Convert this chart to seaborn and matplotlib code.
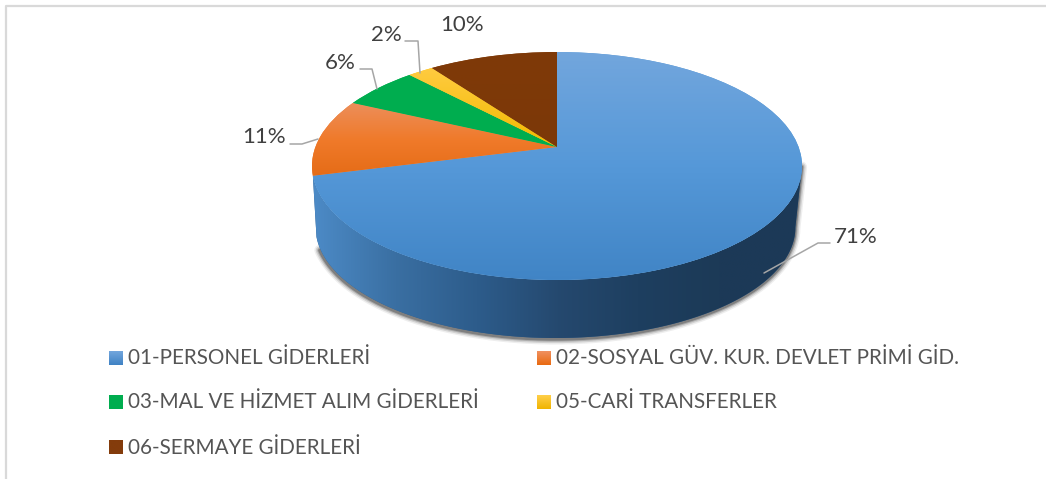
import numpy as np
import matplotlib
matplotlib.use("Agg")
import matplotlib.pyplot as plt
from matplotlib.patches import Polygon
from matplotlib.transforms import Transform
import seaborn as sns

# Datos
categorias = ['01-PERSONEL GİDERLERİ', '02-SOSYAL GÜV. KUR. DEVLET PRİMİ GİD.',
              '03-MAL VE HİZMET ALIM GİDERLERİ', '05-CARİ TRANSFERLER', '06-SERMAYE GİDERLERİ']
valores = [71, 11, 6, 2, 10]

# Degradados de cada sector (arriba -> abajo)
colores = ['#5b9bd5', '#ed7d31', '#00ad4f', '#ffc000', '#7f3a08']
degradados = [['#72a6dd', '#5598d8', '#4084c5'], ['#ec8e5a', '#f07a2a', '#e56c17'],
              ['#00ae50', '#00ad4f'], ['#ffcb40', '#f2ba00'], ['#7f3a08', '#7c3808']]
degradado_lado = ['#4c8ac6', '#3a6fa2', '#2d5c8b', '#25496f', '#1e3f60', '#1c3a57', '#1c3957']
leyenda_deg = [['#72a6dd', '#3f82c4'], ['#f09060', '#e96a10'], ['#00ae50', '#00ad4f'],
               ['#ffcf4a', '#f0b400'], ['#843c0c', '#843c0c']]

GRIS_LINEA = '#a6a6a6'
P = 1 / 6


class Perspectiva(Transform):
    # Lleva el círculo unidad de la tarta a píxeles con perspectiva
    input_dims = 2
    output_dims = 2
    is_affine = False

    def __init__(self, cx=557, cy=147, bx=241.6, by=110.8):
        super().__init__()
        self.cx, self.cy, self.bx, self.by = cx, cy, bx, by

    def transform_non_affine(self, values):
        values = np.asarray(values, dtype=float)
        w = 1 + P * values[:, 1]
        return np.column_stack([self.cx + self.bx * values[:, 0] / w,
                                self.cy - self.by * values[:, 1] / w])

    def inverted(self):
        raise NotImplementedError


def borde(persp, a1, a2, n=200):
    ang = np.radians(np.linspace(a1, a2, n))
    return persp.transform_non_affine(np.column_stack([np.cos(ang), np.sin(ang)]))


def gradiente(ax, lista, caja, horizontal=False, n=128):
    rgb = np.array(sns.blend_palette(lista, n_colors=n))[:, :3]
    img = rgb[None, :, :] if horizontal else rgb[:, None, :]
    return ax.imshow(img, extent=caja, aspect='auto', interpolation='bilinear', zorder=3)


sns.set_theme(style="white")
plt.rcParams['font.family'] = ['Lato', 'DejaVu Sans']

fig, ax = plt.subplots(figsize=(10.46, 4.79), dpi=100)
ax.set_position([0, 0, 1, 1])

# Tarta real, luego se proyecta
sectores, _ = ax.pie(valores, colors=colores, startangle=90, counterclock=False, radius=1)
ax.set_aspect('auto')
ax.set_xlim(0, 1046)
ax.set_ylim(479, 0)
ax.set_xticks([])
ax.set_yticks([])
ax.set_axis_off()

arriba = Perspectiva()
abajo = Perspectiva(cx=555.5, cy=209, bx=236.5, by=107.5)

# Lado visible: desde el final del primer sector hasta el extremo derecho
fin_azul = 90 - valores[0] / sum(valores) * 360 + 360
extremo = 360 + np.degrees(np.arcsin(-P))
rim_sup = borde(arriba, fin_azul, extremo)
rim_inf = borde(abajo, fin_azul, extremo)
lado = Polygon(np.vstack([rim_sup, rim_inf[::-1]]), closed=True, fc='#2d5c8b', ec='none', zorder=2)
ax.add_patch(lado)

# Sombra del lado
contorno = np.vstack([rim_inf[8:], rim_sup[-1:]])
for lw, alfa in [(8, 0.08), (6, 0.14), (4, 0.22), (2.5, 0.35)]:
    ax.plot(contorno[:, 0] - 0.5, contorno[:, 1] + 1, color='#2a2a2a', lw=lw, alpha=alfa, zorder=1,
            solid_capstyle='round')

im = gradiente(ax, degradado_lado, (313, 801, 345, 160), horizontal=True)
im.set_clip_path(lado)

# Cara superior
proj = arriba + ax.transData
for cuña, deg in zip(sectores, degradados):
    cuña.set_transform(proj)
    cuña.set_zorder(4)
    cuña.set_linewidth(0)
    cuña.set_clip_on(False)
    y = arriba.transform_non_affine(np.array(cuña.get_path().vertices))[:, 1]
    im = gradiente(ax, deg, (305, 805, y.max(), y.min()))
    im.set_zorder(5)
    im.set_clip_path(cuña)

ax.set_xlim(0, 1046)
ax.set_ylim(479, 0)

# Etiquetas de porcentaje con sus guías
pos_etiquetas = [(855.5, 237), (264, 137), (340, 63), (386, 35), (462, 25)]
guias = [[(764, 273), (818, 243), (830, 243)],
         [(290, 144), (302, 144), (318, 139)],
         [(360, 69), (372, 69), (377, 89)],
         [(405, 41), (418, 41), (420, 73)],
         None]
for v, (x, y), g in zip(valores, pos_etiquetas, guias):
    ax.text(x, y, f'{v}%', ha='center', va='center', fontsize=16, color='#404040', zorder=8)
    if g:
        xs, ys = zip(*g)
        ax.plot(xs, ys, color=GRIS_LINEA, lw=1.1, zorder=7)

# Leyenda
pos_leyenda = [(109, 358), (537, 358), (109, 402.5), (537, 402.5), (109, 447.5)]
for cat, (x, y), deg in zip(categorias, pos_leyenda, leyenda_deg):
    gradiente(ax, deg, (x, x + 14, y + 7, y - 7)).set_zorder(6)
    ax.text(x + 19, y, cat, ha='left', va='center', fontsize=14.9, color='#555555', zorder=8)

ax.set_xlim(0, 1046)
ax.set_ylim(479, 0)

# Marco del gráfico
ax.plot([6, 6, 1046], [479, 5.5, 5.5], color='#d9d9d9', lw=1.6, zorder=1, clip_on=False)

fig.savefig('out.png', dpi=100)
